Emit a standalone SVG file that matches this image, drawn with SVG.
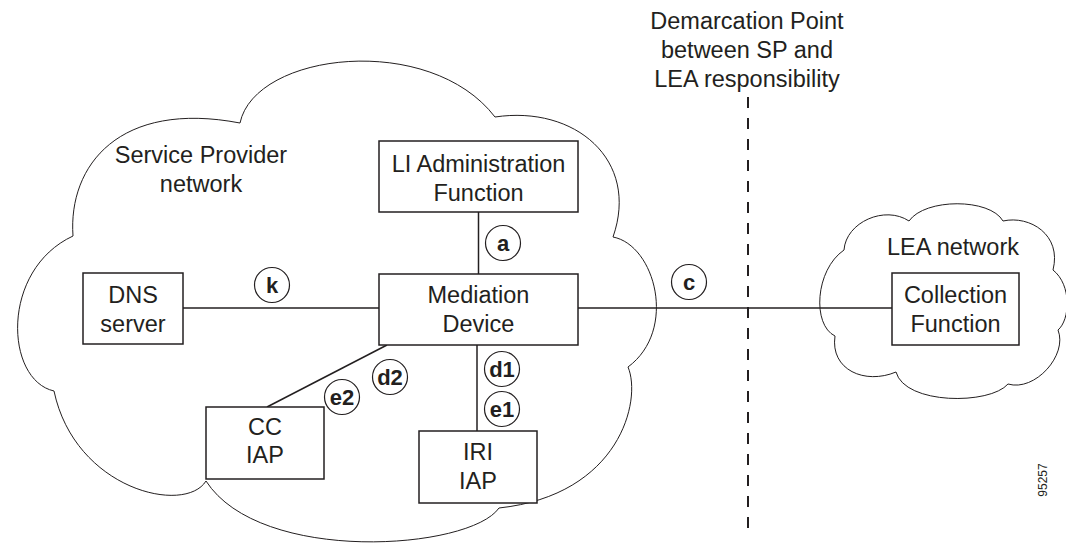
<svg xmlns="http://www.w3.org/2000/svg" width="1066" height="548" viewBox="0 0 1066 548">
<style>
.cloud{fill:none;stroke:#231f20;stroke-width:1}
.box{fill:#fff;stroke:#231f20;stroke-width:1.5}
.conn{fill:none;stroke:#231f20;stroke-width:1.5}
.dash{fill:none;stroke:#231f20;stroke-width:2;stroke-dasharray:11 10}
.t{font-family:"Liberation Sans",Arial,Helvetica,sans-serif;font-size:23.5px;fill:#231f20;text-anchor:middle}
.rc{fill:#fff;stroke:#231f20;stroke-width:1.2}
.rt{font-family:"Liberation Sans",Arial,Helvetica,sans-serif;font-size:22px;font-weight:bold;fill:#231f20;text-anchor:middle}
</style>
<rect width="1066" height="548" fill="#fff"/>
<g id="sp-cloud">
<path class="cloud" d="M73,236 C68,165 120,100 240,123 C255,52 430,32 495,117 C575,105 640,160 613,237 C655,245 678,330 628,367 C642,400 620,495 499,508 C470,550 260,565 206,481 C185,515 75,490 54,391 C5,380 0,270 73,236 Z"/>
<text class="t" x="201" y="163">Service Provider</text>
<text class="t" x="201" y="192">network</text>
</g>
<g id="lea-cloud">
<path class="cloud" d="M844,250 C846,222 885,205 909,221 C925,198 990,198 1003,221 C1030,215 1062,235 1053,270 C1072,285 1070,320 1058,330 C1068,355 1035,392 1008,384 C990,405 905,405 896,372 C865,385 830,370 835,336 C812,325 815,270 844,250 Z"/>
<text class="t" x="953" y="255">LEA network</text>
</g>
<g id="demarcation">
<text class="t" x="747" y="29">Demarcation Point</text>
<text class="t" x="747" y="58">between SP and</text>
<text class="t" x="747" y="87">LEA responsibility</text>
<line class="dash" x1="748" y1="97" x2="748" y2="536"/>
</g>
<g id="connectors">
<line class="conn" x1="183" y1="308" x2="379" y2="308"/>
<line class="conn" x1="578" y1="308" x2="892" y2="308"/>
<line class="conn" x1="478.5" y1="212" x2="478.5" y2="274"/>
<line class="conn" x1="477" y1="345" x2="477" y2="431"/>
<line class="conn" x1="387" y1="345" x2="267" y2="407"/>
</g>
<g id="li-admin">
<rect class="box" x="379" y="141" width="199" height="71"/>
<text class="t" x="478.5" y="172">LI Administration</text>
<text class="t" x="478.5" y="201">Function</text>
</g>
<g id="mediation">
<rect class="box" x="379" y="274" width="199" height="71"/>
<text class="t" x="478.5" y="303">Mediation</text>
<text class="t" x="478.5" y="332">Device</text>
</g>
<g id="dns">
<rect class="box" x="83" y="273" width="100" height="71"/>
<text class="t" x="133" y="303">DNS</text>
<text class="t" x="133" y="332">server</text>
</g>
<g id="cc-iap">
<rect class="box" x="206" y="407" width="118" height="72"/>
<text class="t" x="265" y="435">CC</text>
<text class="t" x="265" y="463">IAP</text>
</g>
<g id="iri-iap">
<rect class="box" x="419" y="431" width="118" height="72"/>
<text class="t" x="478" y="460">IRI</text>
<text class="t" x="478" y="489">IAP</text>
</g>
<g id="collection">
<rect class="box" x="892" y="273" width="127" height="72"/>
<text class="t" x="955.5" y="303">Collection</text>
<text class="t" x="955.5" y="332">Function</text>
</g>
<g id="ref-points">
<g id="ref-k"><circle class="rc" cx="272" cy="285" r="17.5"/><text class="rt" x="272" y="292.5">k</text></g>
<g id="ref-a"><circle class="rc" cx="503" cy="243" r="17.5"/><text class="rt" x="503" y="250.5">a</text></g>
<g id="ref-c"><circle class="rc" cx="689" cy="282" r="17.5"/><text class="rt" x="689" y="289.5">c</text></g>
<g id="ref-d2"><circle class="rc" cx="390" cy="377" r="17.5"/><text class="rt" x="390" y="384.5">d2</text></g>
<g id="ref-e2"><circle class="rc" cx="342" cy="397" r="17.5"/><text class="rt" x="342" y="404.5">e2</text></g>
<g id="ref-d1"><circle class="rc" cx="502" cy="369" r="17.5"/><text class="rt" x="502" y="376.5">d1</text></g>
<g id="ref-e1"><circle class="rc" cx="502" cy="409" r="17.5"/><text class="rt" x="502" y="416.5">e1</text></g>
</g>
<text font-family="Liberation Sans,Arial,sans-serif" font-size="12" fill="#231f20" text-anchor="middle" transform="translate(1047,480) rotate(-90)">95257</text>
</svg>
